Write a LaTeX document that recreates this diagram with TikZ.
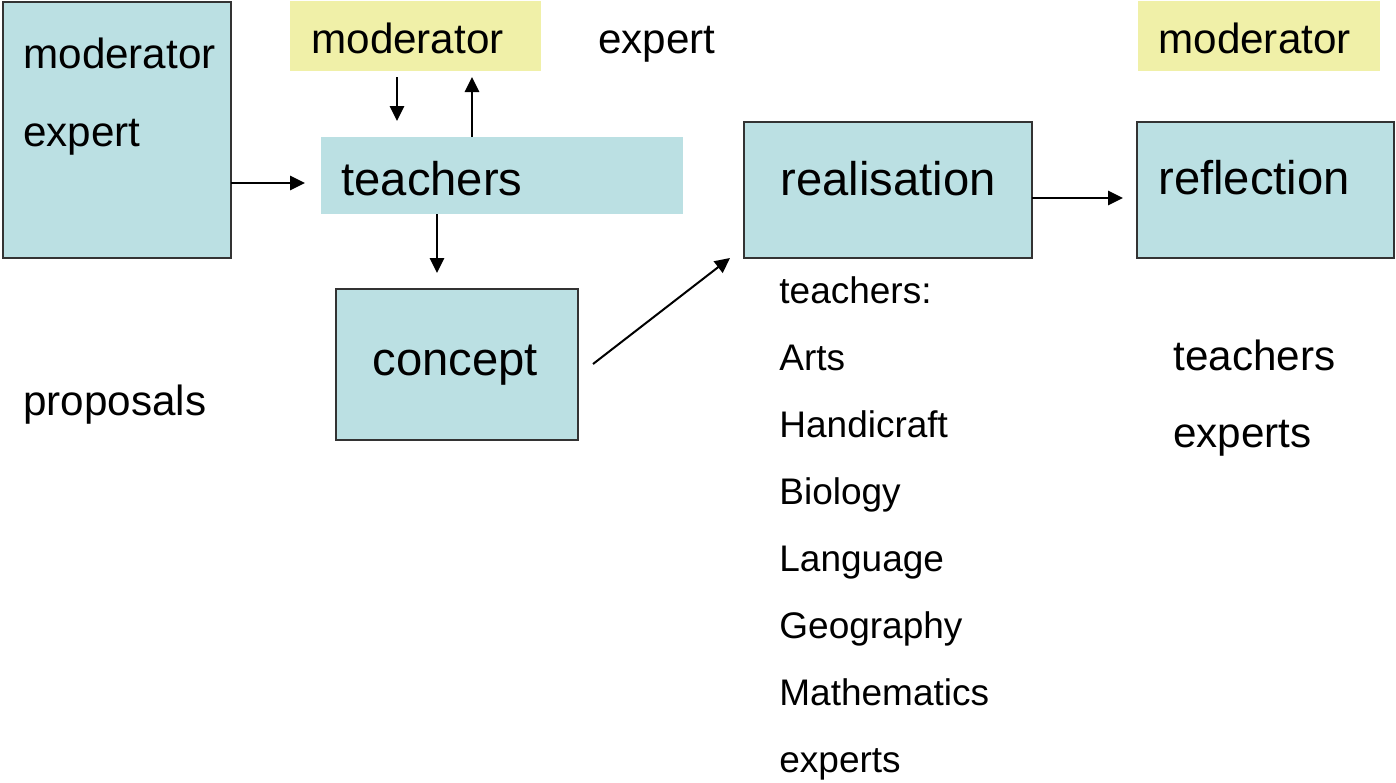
\documentclass[tikz,border=0pt]{standalone}
\usepackage{fontspec}
\setmainfont{Liberation Sans}
\usetikzlibrary{arrows.meta}
\definecolor{boxblue}{HTML}{BBE0E3}
\definecolor{boxyellow}{HTML}{F0F0A8}
\definecolor{edge}{HTML}{333333}
\tikzset{
  bx/.style={inner sep=0pt, outer sep=0pt, fill=boxblue, draw=edge, line width=1pt},
  bxnoline/.style={inner sep=0pt, outer sep=0pt, fill=boxblue},
  ybx/.style={inner sep=0pt, outer sep=0pt, fill=boxyellow},
  big/.style={inner sep=0pt, anchor=base west, font=\fontsize{23.6}{28}\selectfont},
  mid/.style={inner sep=0pt, anchor=base west, font=\fontsize{21.1}{25}\selectfont},
  small/.style={inner sep=0pt, anchor=base west, font=\fontsize{18.5}{22}\selectfont},
  arr/.style={line width=1pt, -{Triangle[length=7.5pt,width=7.2pt]}}
}
\begin{document}
\begin{tikzpicture}[x=0.5pt,y=-0.5pt]
\useasboundingbox (0,0) rectangle (1396,782);
% boxes
\node[bx, minimum width=228*0.5pt, minimum height=256*0.5pt] (lb) at (117,130) {};
\node[ybx, minimum width=251*0.5pt, minimum height=70*0.5pt] (mod1) at (415.5,36) {};
\node[bxnoline, minimum width=362*0.5pt, minimum height=77*0.5pt] (teach) at (502,175.5) {};
\node[bx, minimum width=242*0.5pt, minimum height=151*0.5pt] (conc) at (457,364.5) {};
\node[bx, minimum width=288*0.5pt, minimum height=136*0.5pt] (real) at (888,190) {};
\node[bx, minimum width=257*0.5pt, minimum height=136*0.5pt] (refl) at (1265.5,190) {};
\node[ybx, minimum width=242*0.5pt, minimum height=70*0.5pt] (mod2) at (1259,36) {};
% texts
\node[mid] (lbmod) at (23,68) {moderator};
\node[mid] (lbexp) at (23,146) {expert};
\node[mid] (mod1t) at (311,53) {moderator};
\node[mid] (expt) at (598,53) {expert};
\node[mid] (mod2t) at (1158,53) {moderator};
\node[big] (teacht) at (341,195) {teachers};
\node[big] (conct) at (372,375) {concept};
\node[big] (realt) at (780,195) {realisation};
\node[big] (reflt) at (1158,194) {reflection};
\node[mid] (prop) at (23,415) {proposals};
\node[mid] (rteach) at (1173,370) {teachers};
\node[mid] (rexp) at (1173,447) {experts};
\node[small] (l1) at (779,303) {teachers:};
\node[small] (l2) at (779,370) {Arts};
\node[small] (l3) at (779,437) {Handicraft};
\node[small] (l4) at (779,504) {Biology};
\node[small] (l5) at (779,571) {Language};
\node[small] (l6) at (779,638) {Geography};
\node[small] (l7) at (779,705) {Mathematics};
\node[small] (l8) at (779,772) {experts};
% arrow end coordinates
\coordinate (c1) at (305,183);
\coordinate (c2s) at (397,77);
\coordinate (c2e) at (397,121);
\coordinate (c3) at (472,77);
\coordinate (c4) at (437,273);
\coordinate (c5s) at (593,364);
\coordinate (c5e) at (730,258);
\coordinate (c6) at (1123,198);
% arrows
\draw[arr] (lb.east |- c1) -- (c1);
\draw[arr] (c2s) -- (c2e);
\draw[arr] (teach.north -| c3) -- (c3);
\draw[arr] (teach.south -| c4) -- (c4);
\draw[arr] (c5s) -- (c5e);
\draw[arr] (real.east |- c6) -- (c6);
\end{tikzpicture}
\end{document}
